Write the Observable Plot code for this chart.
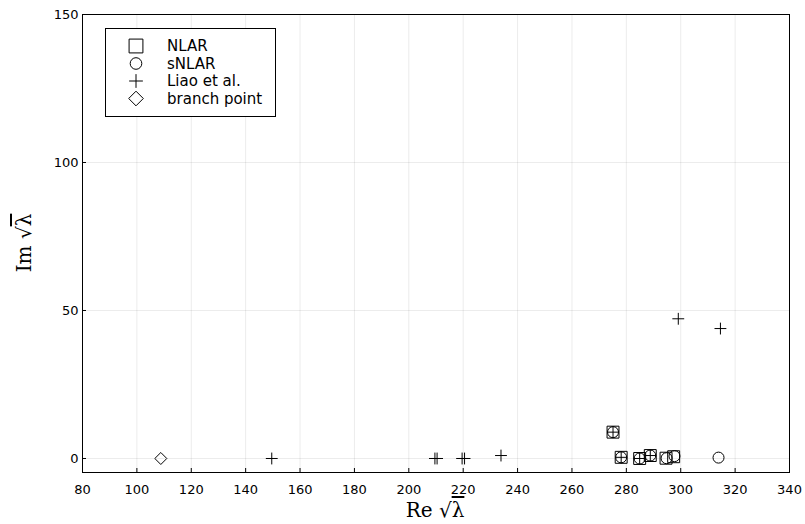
<!DOCTYPE html>
<html><head><meta charset="utf-8">
<script src="https://cdn.jsdelivr.net/npm/d3@7"></script>
<script src="https://cdn.jsdelivr.net/npm/@observablehq/plot@0.6"></script>
<style>body{margin:0;background:#fff} svg{display:block}</style>
</head><body><div id="chart"></div>
<script>
const xTicks = [80,100,120,140,160,180,200,220,240,260,280,300,320,340];
const yTicks = [0,50,100,150];

const nlarRe = [275.1, 278.1, 284.9, 288.8, 294.6, 297.4];
const nlarIm = [8.9, 0.4, 0.0, 1.0, 0.1, 0.6];

const snlarRe = [275.1, 278.1, 284.9, 288.8, 294.8, 297.7, 313.9];
const snlarIm = [8.9, 0.4, 0.0, 1.0, 0.1, 0.8, 0.3];

const liaoRe = [149.6, 209.6, 210.4, 219.6, 220.5, 233.9, 275.1, 278.1, 284.9, 288.8, 299.1, 314.6];
const liaoIm = [0.0, 0.0, 0.0, 0.0, 0.0, 1.0, 8.9, 0.4, 0.0, 1.0, 47.2, 43.9];

const branchRe = [108.8];
const branchIm = [0.0];

const seriesNames = ["NLAR", "sNLAR", "Liao et al.", "branch point"];
const seriesSymbols = ["square2", "circle", "plus", "diamond2"];
const seriesR = [7.6, 5.5, 3.9, 5.4];
const legendR = [8.8, 5.8, 4.5, 6.6];

const rows = (re, im) => re.map((x, i) => ({x, y: im[i]}));
const seriesData = [rows(nlarRe, nlarIm), rows(snlarRe, snlarIm), rows(liaoRe, liaoIm), rows(branchRe, branchIm)];

const yDomain = [-4.73, 150];

const plot = Plot.plot({
  width: 805, height: 524,
  marginLeft: 82, marginRight: 16, marginTop: 14, marginBottom: 52,
  style: {fontFamily: "DejaVu Sans", fontSize: "13px", color: "#000", background: "#fff"},
  x: {domain: [80, 340]},
  y: {domain: yDomain},
  marks: [
    Plot.gridX(xTicks, {stroke: "#000", strokeOpacity: 0.08, strokeWidth: 1}),
    Plot.gridY(yTicks, {stroke: "#000", strokeOpacity: 0.08, strokeWidth: 1}),
    Plot.axisX(xTicks, {tickSize: -4, tickPadding: 16, label: null, fontSize: 13}),
    Plot.axisY(yTicks, {tickSize: -4, tickPadding: 8, label: null, fontSize: 13}),
    Plot.frame({stroke: "#000", strokeWidth: 1}),
    ...seriesData.map((d, i) => Plot.dot(d, {x: "x", y: "y", symbol: seriesSymbols[i], r: seriesR[i], stroke: "#000", fill: "none", strokeWidth: 1}))
  ]
});

const svg = d3.select(plot);

// axis labels (LaTeX-like)
function mathLabel(sel, prefix) {
  sel.append("tspan").text(prefix + " √");
  sel.append("tspan").text("λ").style("text-decoration", "overline");
}
const xl = svg.append("text")
  .attr("x", 435).attr("y", 517)
  .attr("text-anchor", "middle")
  .style("font-family", "'DejaVu Serif', serif").style("font-size", "20px").style("fill", "#000");
mathLabel(xl, "Re");
const yl = svg.append("text")
  .attr("transform", "translate(31,243) rotate(-90)")
  .attr("text-anchor", "middle")
  .style("font-family", "'DejaVu Serif', serif").style("font-size", "20px").style("fill", "#000");
mathLabel(yl, "Im");

// legend
const symMap = {square2: d3.symbolSquare2, circle: d3.symbolCircle, plus: d3.symbolPlus, diamond2: d3.symbolDiamond2};
const lg = svg.append("g").attr("transform", "translate(105,28)");
lg.append("rect").attr("x", 0.5).attr("y", 0.5).attr("width", 170).attr("height", 88)
  .attr("fill", "#fff").attr("stroke", "#000").attr("stroke-width", 1);
seriesNames.forEach((name, i) => {
  const cy = 18 + i * 17.5;
  const r = legendR[i];
  lg.append("path")
    .attr("transform", `translate(31,${cy})`)
    .attr("d", d3.symbol(symMap[seriesSymbols[i]], Math.PI * r * r)())
    .attr("fill", "none").attr("stroke", "#000").attr("stroke-width", 1);
  lg.append("text").attr("x", 62).attr("y", cy).attr("dy", "0.35em")
    .attr("text-anchor", "start")
    .style("font-family", "DejaVu Sans").style("font-size", "15px").style("fill", "#000")
    .text(name);
});

document.getElementById("chart").appendChild(plot);
</script>
</body></html>
